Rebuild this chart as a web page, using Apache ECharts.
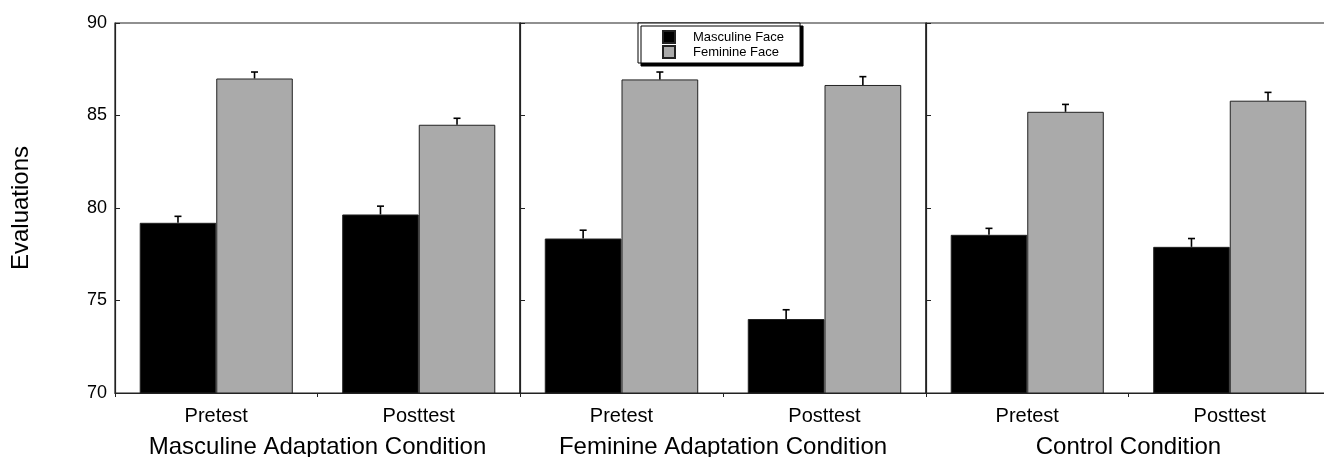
<!DOCTYPE html>
<html>
<head>
<meta charset="utf-8">
<script src="https://cdn.jsdelivr.net/npm/echarts@6/dist/echarts.min.js"></script>
<style>
  html, body { margin: 0; padding: 0; background: #fff; }
  #chart { width: 1324px; height: 457px; }
</style>
</head>
<body>
<div id="chart"></div>
<script>
// values
const categories = ['Pretest', 'Posttest']
const conditions = ['Masculine Adaptation Condition', 'Feminine Adaptation Condition', 'Control Condition']
const masculineMeans = [[79.2, 79.65], [78.35, 74.0], [78.55, 77.9]]
const masculineErrTop = [[79.55, 80.1], [78.8, 74.5], [78.9, 78.35]]
const feminineMeans = [[87.0, 84.5], [86.95, 86.65], [85.2, 85.8]]
const feminineErrTop = [[87.35, 84.85], [87.35, 87.1], [85.6, 86.25]]
const yTicks = [70, 75, 80, 85, 90]

const font = 'Liberation Sans'
const ink = '#000'
const grey = '#aaaaaa'

// panel placement in pixels (last panel runs past the right edge)
const panelLeft = [115, 520, 926]
const panelWidth = [405, 406, 405]

const chart = echarts.init(document.getElementById('chart'))

const grids = [], xAxes = [], yAxes = [], series = []

conditions.forEach((cond, i) => {
  grids.push({
    left: panelLeft[i], width: panelWidth[i], top: 23, height: 370,
    outerBoundsMode: 'none', containLabel: false,
    show: true, borderColor: '#222', borderWidth: 1.2, backgroundColor: 'transparent'
  })
  xAxes.push({
    type: 'category', gridIndex: i, data: categories,
    name: cond, nameLocation: 'middle', nameGap: 42,
    nameTextStyle: { fontFamily: font, fontSize: 24, color: ink },
    axisLine: { lineStyle: { color: '#222', width: 1.2 } },
    axisTick: { show: true, length: 4, lineStyle: { color: '#222' } },
    axisLabel: { fontFamily: font, fontSize: 20, color: ink, margin: 13 }
  })
  yAxes.push({
    type: 'value', gridIndex: i, min: yTicks[0], max: yTicks[yTicks.length - 1], interval: 5,
    name: i === 0 ? 'Evaluations' : '', nameLocation: 'middle', nameGap: 82,
    nameTextStyle: { fontFamily: font, fontSize: 24, color: ink },
    splitLine: { show: false },
    axisLine: { show: true, lineStyle: { color: '#222', width: 1.2 } },
    axisTick: { show: true, inside: true, length: 5, lineStyle: { color: '#222' } },
    axisLabel: { show: i === 0, fontFamily: font, fontSize: 18, color: ink, margin: 8 }
  })
  series.push({
    name: 'Masculine Face', type: 'bar', xAxisIndex: i, yAxisIndex: i,
    data: masculineMeans[i], barGap: '0%', barCategoryGap: '24.4%',
    itemStyle: { color: '#000', borderColor: '#222', borderWidth: 1 }
  })
  series.push({
    name: 'Feminine Face', type: 'bar', xAxisIndex: i, yAxisIndex: i,
    data: feminineMeans[i], barGap: '0%', barCategoryGap: '24.4%',
    itemStyle: { color: grey, borderColor: '#222', borderWidth: 1 }
  })
  // upper error bars
  const errData = []
  categories.forEach((c, k) => {
    errData.push([k, 0, masculineMeans[i][k], masculineErrTop[i][k]])
    errData.push([k, 1, feminineMeans[i][k], feminineErrTop[i][k]])
  })
  series.push({
    type: 'custom', xAxisIndex: i, yAxisIndex: i, z: 10, silent: true,
    encode: { x: 0, y: [2, 3] },
    data: errData,
    renderItem: (params, api) => {
      const cat = api.value(0)
      const side = api.value(1)
      const band = api.size([1, 0])[0]
      const off = (side === 0 ? -1 : 1) * band * 0.189
      const base = api.coord([cat, api.value(2)])
      const top = api.coord([cat, api.value(3)])
      const x = base[0] + off
      const st = { stroke: '#000', lineWidth: 1.6 }
      return {
        type: 'group',
        children: [
          { type: 'line', shape: { x1: x, y1: base[1], x2: x, y2: top[1] }, style: st },
          { type: 'line', shape: { x1: x - 3.5, y1: top[1], x2: x + 3.5, y2: top[1] }, style: st }
        ]
      }
    }
  })
})

const options = {
  animation: false,
  backgroundColor: '#fff',
  legend: {
    data: ['Masculine Face', 'Feminine Face'],
    orient: 'vertical', left: 638, top: 23,
    padding: [7, 16, 4, 24], itemGap: 1,
    itemWidth: 12, itemHeight: 12, icon: 'rect',
    backgroundColor: '#fff', borderColor: '#000', borderWidth: 1,
    shadowColor: '#000', shadowBlur: 0, shadowOffsetX: 3, shadowOffsetY: 3,
    textStyle: { fontFamily: font, fontSize: 13, color: ink, padding: [0, 0, 0, 13], lineHeight: 12 }
  },
  grid: grids,
  xAxis: xAxes,
  yAxis: yAxes,
  series: series
}

chart.setOption(options)
</script>
</body>
</html>
